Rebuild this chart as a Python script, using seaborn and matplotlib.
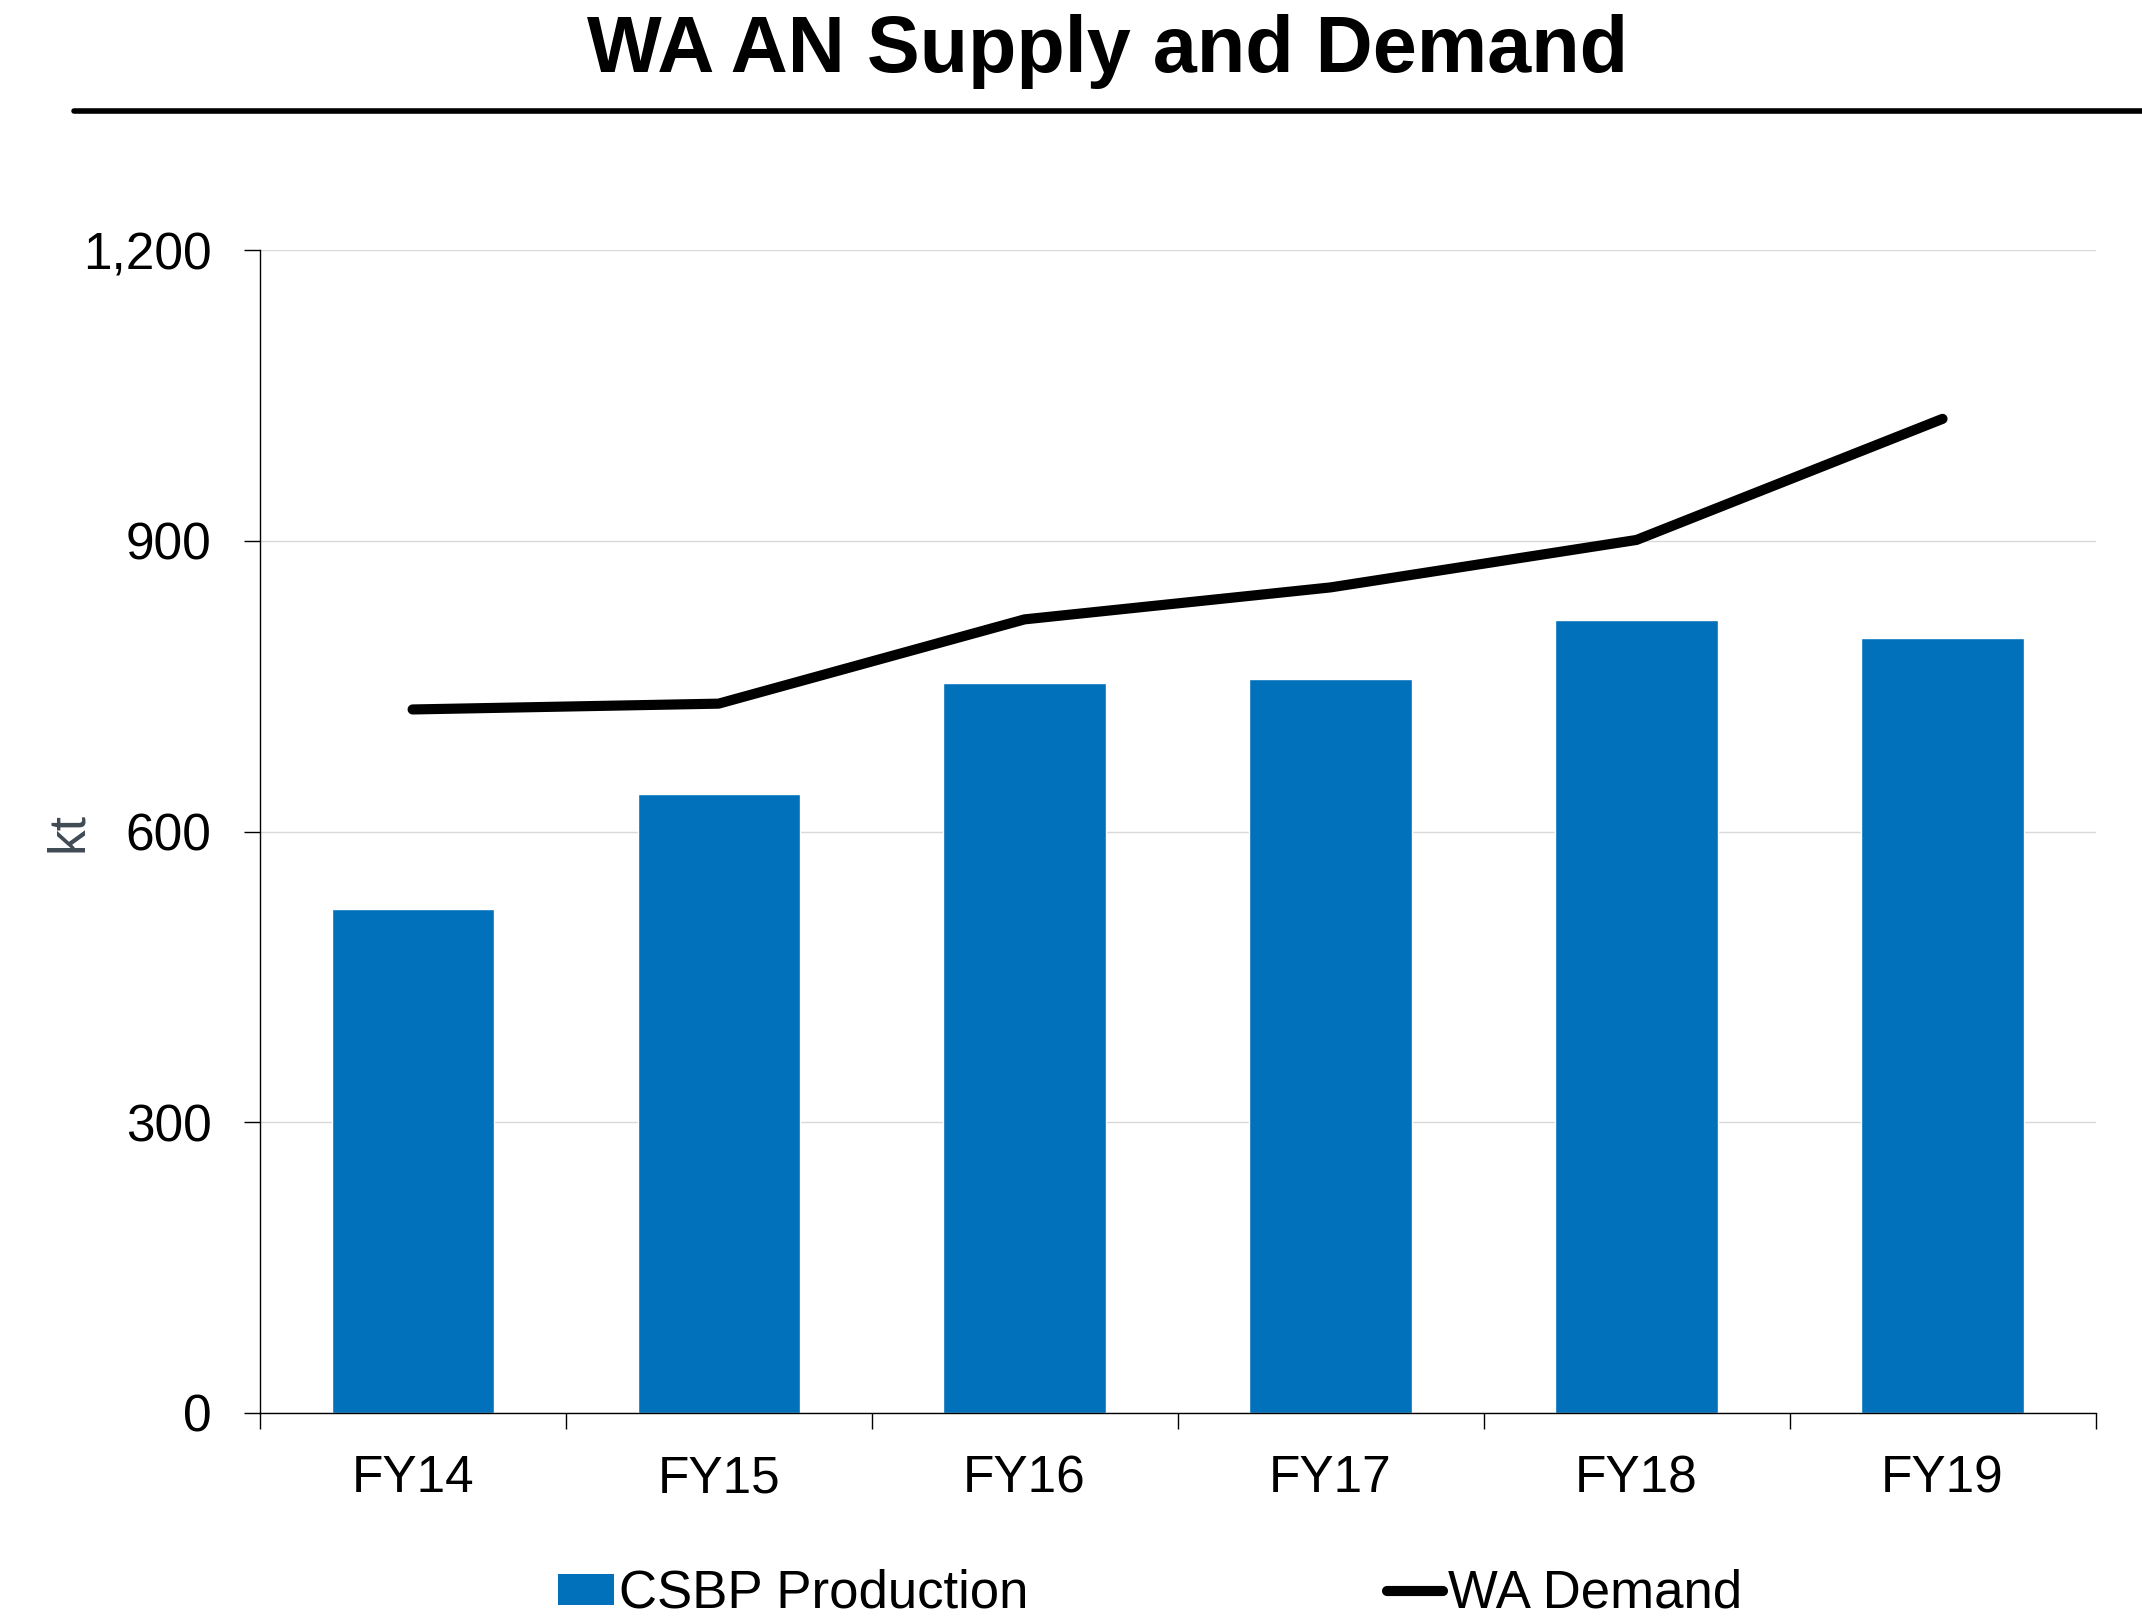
"""
WA AN Supply and Demand chart.
Bars for CSBP production with the WA demand line on top.
"""

import numpy as np
import matplotlib
matplotlib.use('Agg')
import matplotlib.pyplot as plt
import seaborn as sns
from matplotlib.patches import Patch
from matplotlib.lines import Line2D

# Data (kt)
years = ['FY14', 'FY15', 'FY16', 'FY17', 'FY18', 'FY19']
csbp_production = [520, 639, 753, 757, 818, 800]
wa_demand = [726, 732, 819, 852, 901, 1026]
y_ticks = [0, 300, 600, 900, 1200]

BAR_COLOR = '#0071BA'
LABEL_COLOR = '#3F4A54'

sns.set_theme(style='white')
plt.rcParams['font.family'] = ['Liberation Sans', 'DejaVu Sans']
plt.rcParams['text.color'] = 'black'

fig = plt.figure(figsize=(21.42, 16.19), dpi=100)
ax = fig.add_axes([0.1212, 0.1274, 0.8571, 0.7180])

# Bars
sns.barplot(x=years, y=csbp_production, color=BAR_COLOR, width=0.53,
            saturation=1, ax=ax, zorder=2)

# Demand line
sns.pointplot(x=years, y=wa_demand, color='black', markers='', ax=ax,
              linewidth=7.3, solid_capstyle='round')
for line in ax.lines:
    line.set_zorder(3)

# Axes styling
ax.set_ylim(0, 1200)
ax.set_xlim(-0.5, len(years) - 0.5)
ax.set_yticks(y_ticks)
ax.set_yticklabels([f'{v:,}' for v in y_ticks])
ax.yaxis.grid(True, color='#D9D9D9', linewidth=1.0, zorder=0)
ax.set_axisbelow(True)

ax.set_xticks(np.arange(-0.5, len(years), 1))
ax.set_xticklabels([])
ax.set_xticks(np.arange(len(years)), minor=True)
ax.set_xticklabels(years, minor=True)
ax.tick_params(axis='x', which='major', direction='out', length=11.5,
               width=1.0, color='black', bottom=True)
ax.tick_params(axis='x', which='minor', length=0, pad=30, labelsize=37,
               labelcolor='black', bottom=True)
ax.tick_params(axis='y', direction='out', length=11.5, width=1.0,
               color='black', pad=23, labelsize=37, labelcolor='black', left=True)

for side in ['top', 'right']:
    ax.spines[side].set_visible(False)
for side in ['left', 'bottom']:
    ax.spines[side].set_color('black')
    ax.spines[side].set_linewidth(1.0)

ax.set_xlabel('')
ax.set_ylabel('kt', fontsize=37, color=LABEL_COLOR)
ax.yaxis.set_label_coords(-0.091, 0.5)

# Title and rule
fig.text(0.517, 0.968, 'WA AN Supply and Demand', ha='center', va='center',
         fontsize=57, fontweight='bold', color='black')
fig.add_artist(Line2D([0.0345, 1.0], [0.9314, 0.9314], color='black',
                      linewidth=4, transform=fig.transFigure))

# Legend
handles = [Patch(facecolor=BAR_COLOR, edgecolor='none', label='CSBP Production'),
           Line2D([0], [0], color='black', linewidth=7.3,
                  solid_capstyle='round', label='WA Demand')]
fig.legend(handles=handles, loc='center', bbox_to_anchor=(0.537, 0.0155),
           ncol=2, frameon=False, fontsize=38, labelcolor='black',
           handlelength=1.05, handleheight=0.52, handletextpad=0.1,
           columnspacing=6.8, borderpad=0, borderaxespad=0)

fig.savefig('out.png', dpi=100)
plt.close(fig)
